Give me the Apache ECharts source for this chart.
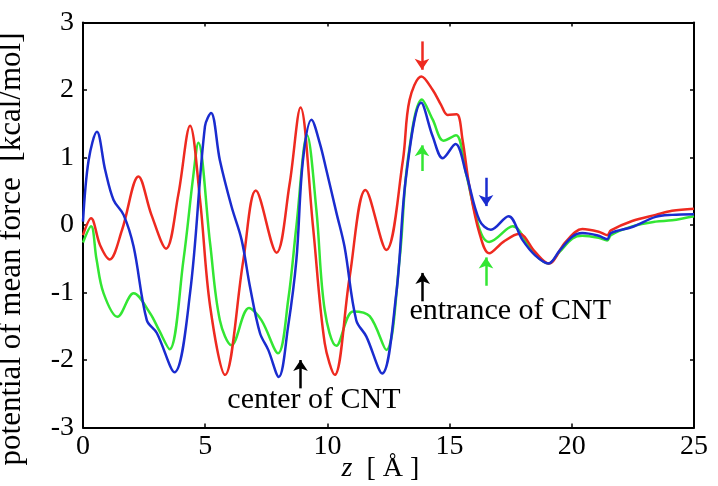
<!DOCTYPE html>
<html>
<head>
<meta charset="utf-8">
<script src="https://cdn.jsdelivr.net/npm/echarts@6/dist/echarts.min.js"></script>
<style>
  html, body { margin: 0; padding: 0; background: #fff; }
  #chart { width: 718px; height: 486px; }
</style>
</head>
<body>
<div id="chart"></div>
<script>
// z positions (Å) and PMF values (kcal/mol)
const redZ = [0, 0.33, 0.7, 1.09, 1.6, 2.27, 2.8, 3.4, 3.9, 4.38, 4.79, 5.2, 5.81, 6.56, 7.07, 7.92, 8.45, 8.9, 9.41, 9.89, 10.3, 10.91, 11.56, 12.41, 13.09, 13.36, 13.85, 14.31, 14.65, 14.92, 15.29, 15.53, 15.81, 16.22, 16.62, 17.2, 17.85, 18.5, 19.05, 19.75, 20.43, 21.1, 21.45, 21.6, 22.47, 23.43, 24.1, 25]
const redPmf = [-0.15, 0.1, -0.3, -0.51, -0.07, 0.72, 0.15, -0.35, 0.45, 1.47, 0.37, -1.2, -2.22, -0.52, 0.51, -0.41, 0.6, 1.74, -0.02, -1.75, -2.22, -0.77, 0.52, -0.37, 0.96, 1.85, 2.2, 2.0, 1.78, 1.63, 1.64, 1.26, 0.57, -0.12, -0.42, -0.25, -0.13, -0.4, -0.57, -0.25, -0.06, -0.1, -0.15, -0.08, 0.06, 0.15, 0.21, 0.24]

const greenZ = [0, 0.33, 0.55, 0.84, 1.41, 2.07, 2.75, 3.1, 3.54, 4.11, 4.51, 4.72, 5.2, 5.6, 6.08, 6.79, 7.3, 7.98, 8.4, 8.73, 9.17, 9.55, 9.89, 10.37, 11.05, 11.73, 12.41, 12.95, 13.29, 13.87, 14.31, 14.75, 15.26, 15.67, 16.08, 16.35, 16.62, 17.58, 18.4, 19.05, 19.5, 20.03, 20.43, 21.1, 21.45, 21.6, 22.47, 23.43, 24.1, 25]
const greenPmf = [-0.26, -0.02, -0.5, -1.01, -1.36, -1.01, -1.31, -1.55, -1.84, -0.52, 0.72, 1.22, -0.27, -1.41, -1.78, -1.23, -1.41, -1.9, -1.1, -0.02, 1.33, 0.22, -1.26, -1.79, -1.28, -1.35, -1.85, -0.52, 0.96, 1.86, 1.56, 1.25, 1.33, 0.77, 0.12, -0.17, -0.25, -0.02, -0.4, -0.57, -0.4, -0.2, -0.16, -0.19, -0.23, -0.15, -0.02, 0.05, 0.07, 0.13]

const blueZ = [0, 0.23, 0.57, 0.91, 1.25, 1.66, 2.07, 2.61, 3.02, 3.74, 4.38, 4.99, 5.24, 5.6, 6.08, 6.49, 6.83, 7.24, 7.58, 8.01, 8.39, 8.73, 9.0, 9.35, 9.69, 9.96, 10.37, 10.7, 11.18, 11.59, 12.24, 12.82, 13.22, 13.84, 14.31, 14.72, 15.24, 15.67, 16.22, 16.69, 17.41, 17.98, 18.5, 19.05, 19.5, 20.03, 20.43, 21.1, 21.45, 21.6, 22.47, 23.43, 24.1, 25]
const bluePmf = [0.05, 0.96, 1.38, 0.81, 0.37, 0.15, -0.32, -1.41, -1.6, -2.18, -1.01, 1.46, 1.66, 0.96, 0.27, -0.22, -0.91, -1.6, -1.85, -2.25, -1.51, -0.52, 0.96, 1.56, 1.21, 0.81, 0.18, -0.32, -1.41, -1.65, -2.2, -1.01, 0.72, 1.81, 1.31, 0.99, 1.2, 0.77, 0.07, -0.07, 0.13, -0.22, -0.45, -0.57, -0.38, -0.17, -0.12, -0.16, -0.21, -0.12, -0.03, 0.12, 0.15, 0.16]

const xTicks = { min: 0, max: 25, interval: 5 }
const yTicks = { min: -3, max: 3, interval: 1 }

// annotation arrows: [z, from, to, color]
const arrows = [
  [13.87, 2.72, 2.3, '#ee2a20'],
  [13.87, 0.8, 1.18, '#33e633'],
  [16.49, 0.7, 0.28, '#1a2ccf'],
  [16.49, -0.9, -0.48, '#33e633'],
  [8.9, -2.42, -2.0, '#000'],
  [13.9, -1.13, -0.71, '#000']
]
const notes = [
  [9.45, -2.6, 'center of CNT'],
  [17.48, -1.27, 'entrance of CNT']
]

const serif = '"Liberation Serif", "Times New Roman", serif'

const chart = echarts.init(document.getElementById('chart'))

function pairs(xs, ys) {
  return xs.map((x, i) => [x, ys[i]])
}

function axisBase(extra) {
  return Object.assign({
    type: 'value',
    axisLine: { show: true, onZero: false, lineStyle: { color: '#000', width: 2 } },
    axisTick: { show: true, inside: true, length: 4, lineStyle: { color: '#000', width: 1.5 } },
    splitLine: { show: false },
    axisLabel: { show: false }
  }, extra)
}

const labelStyle = { show: true, color: '#000', fontFamily: serif, fontSize: 28 }

function curve(name, xs, ys, color, extra) {
  return Object.assign({
    name: name,
    type: 'line',
    data: pairs(xs, ys),
    smooth: 0.35,
    showSymbol: false,
    lineStyle: { color: color, width: 2.5 },
    itemStyle: { color: color },
    animation: false
  }, extra)
}

chart.setOption({
  backgroundColor: '#fff',
  grid: { left: 83, right: 24, top: 22.5, bottom: 58.5, outerBoundsMode: 'none' },
  xAxis: [
    axisBase(Object.assign({
      position: 'bottom',
      axisLabel: Object.assign({ margin: 5 }, labelStyle),
      name: '{i|z}  [ Å ]',
      nameLocation: 'middle',
      nameGap: 26,
      nameMoveOverlap: false,
      nameTextStyle: {
        color: '#000', fontFamily: serif, fontSize: 28, lineHeight: 30, padding: [0, 16, 0, 0],
        rich: { i: { fontFamily: serif, fontSize: 28, lineHeight: 30, fontStyle: 'italic', color: '#000' } }
      }
    }, xTicks)),
    axisBase(Object.assign({ position: 'top' }, xTicks))
  ],
  yAxis: [
    axisBase(Object.assign({
      position: 'left',
      axisLabel: Object.assign({ margin: 9 }, labelStyle)
    }, yTicks)),
    axisBase(Object.assign({ position: 'right' }, yTicks))
  ],
  graphic: [{
    type: 'text',
    x: 12,
    y: 249,
    rotation: Math.PI / 2,
    style: {
      text: 'potential of mean force  [kcal/mol]',
      fill: '#000',
      font: '31px ' + serif,
      align: 'center',
      verticalAlign: 'middle'
    }
  }],
  series: [
    curve('green', greenZ, greenPmf, '#33e633'),
    curve('red', redZ, redPmf, '#ee2a20', {
      markLine: {
        silent: true,
        animation: false,
        symbol: ['none', 'arrow'],
        symbolSize: 11,
        label: { show: false },
        data: arrows.map(a => [
          { coord: [a[0], a[1]], lineStyle: { color: a[3], width: 2.5, type: 'solid' }, itemStyle: { color: a[3] } },
          { coord: [a[0], a[2]] }
        ])
      },
      markPoint: {
        silent: true,
        animation: false,
        symbol: 'rect',
        symbolSize: 1,
        itemStyle: { color: 'rgba(0,0,0,0)' },
        data: notes.map(n => ({
          coord: [n[0], n[1]],
          label: {
            show: true, position: 'inside', formatter: n[2],
            color: '#000', fontFamily: serif, fontSize: 30
          }
        }))
      }
    }),
    curve('blue', blueZ, bluePmf, '#1a2ccf')
  ]
})
</script>
</body>
</html>
